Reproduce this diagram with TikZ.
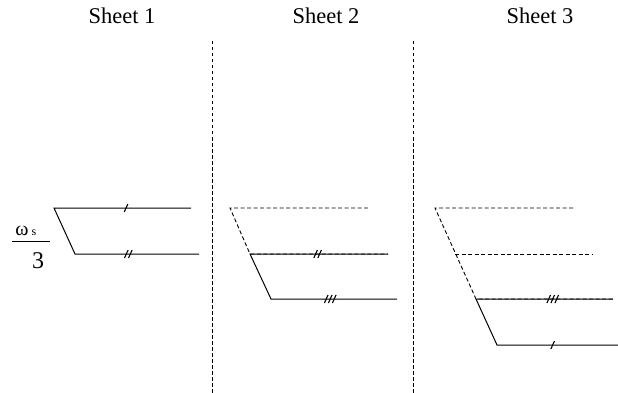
\documentclass[tikz,border=0pt]{standalone}
\usepackage{fontspec}
\setmainfont{Liberation Serif}
\usepackage{tikz}

\tikzset{
	level/.style={line width=1pt},
	ghost/.style={line width=0.9pt,dash pattern=on 4pt off 2.5pt},
	divider/.style={line width=0.8pt,dash pattern=on 3.5pt off 2.5pt},
	tickone/.pic={\draw[line width=1.1pt] (-1.8,4) -- (1.8,-4);},
	ticktwo/.pic={\draw[line width=1.1pt] (-3.8,4) -- (-0.2,-4) (0.2,4) -- (3.8,-4);},
	tickthree/.pic={\draw[line width=1.1pt] (-5.8,4) -- (-2.2,-4) (-1.8,4) -- (1.8,-4) (2.2,4) -- (5.8,-4);}
}

\begin{document}
\begin{tikzpicture}[x=1pt,y=-1pt]
		\useasboundingbox (0,0) rectangle (618,393);
		
		\begin{scope}[every node/.style={anchor=base,inner sep=0pt,font=\fontsize{22.5}{26}\selectfont}]
			\node (S1) at (122,23.5) {Sheet 1};
			\node (S2) at (326,23.5) {Sheet 2};
			\node (S3) at (540,23.5) {Sheet 3};
		\end{scope}
		
		% omega_s / 3
		\begin{scope}[every node/.style={anchor=base,inner sep=0pt}]
			\node[font=\fontsize{20}{24}\selectfont] (W) at (22,235) {ω};
			\node[font=\fontsize{12}{14}\selectfont] (Ws) at (34,235) {s};
			\node[font=\fontsize{24}{28}\selectfont] (T) at (38,268.5) {3};
		\end{scope}
		\coordinate (L) at (12,241);
		\coordinate (R) at (50,241);
		\draw[level] (L) -- (R);
		
		% dividers
		\coordinate (V1) at (212,41);
		\coordinate (U1) at (212,393);
		\coordinate (V2) at (413,41);
		\coordinate (U2) at (413,393);
		\draw[divider] (V1) -- (U1);
		\draw[divider] (V2) -- (U2);
		
		% sheet 1
		\coordinate (A1) at (54,208);
		\coordinate (B1) at (191,208);
		\coordinate (C1) at (75,254);
		\coordinate (D1) at (199,254);
		\draw[level] (B1) -- (A1) -- (C1) -- (D1);
		\path (A1) -- (B1) pic[pos=0.526] {tickone};
		\path (C1) -- (D1) pic[pos=0.43] {ticktwo};
		
		% sheet 2
		\coordinate (A2) at (230,208);
		\coordinate (B2) at (368,208);
		\coordinate (C2) at (250,254);
		\coordinate (D2) at (388,254);
		\coordinate (E2) at (271,299);
		\coordinate (F2) at (397,299);
		\draw[ghost] (B2) -- (A2) -- (C2) -- (D2);
		\draw[level] (D2) -- (C2) -- (E2) -- (F2);
		\path (C2) -- (D2) pic[pos=0.49] {ticktwo};
		\path (E2) -- (F2) pic[pos=0.47] {tickthree};
		
		% sheet 3
		\coordinate (A3) at (435,208);
		\coordinate (B3) at (573,208);
		\coordinate (C3) at (455,254);
		\coordinate (D3) at (593,254);
		\coordinate (E3) at (476,299);
		\coordinate (F3) at (613,299);
		\coordinate (G3) at (497,345);
		\coordinate (H3) at (618,345);
		\draw[ghost] (B3) -- (A3) -- (E3) -- (F3);
		\draw[ghost] (C3) -- (D3);
		\draw[level] (F3) -- (E3) -- (G3) -- (H3);
		\path (E3) -- (F3) pic[pos=0.56] {tickthree};
		\path (G3) -- (H3) pic[pos=0.46] {tickone};
	\end{tikzpicture}
\end{document}
